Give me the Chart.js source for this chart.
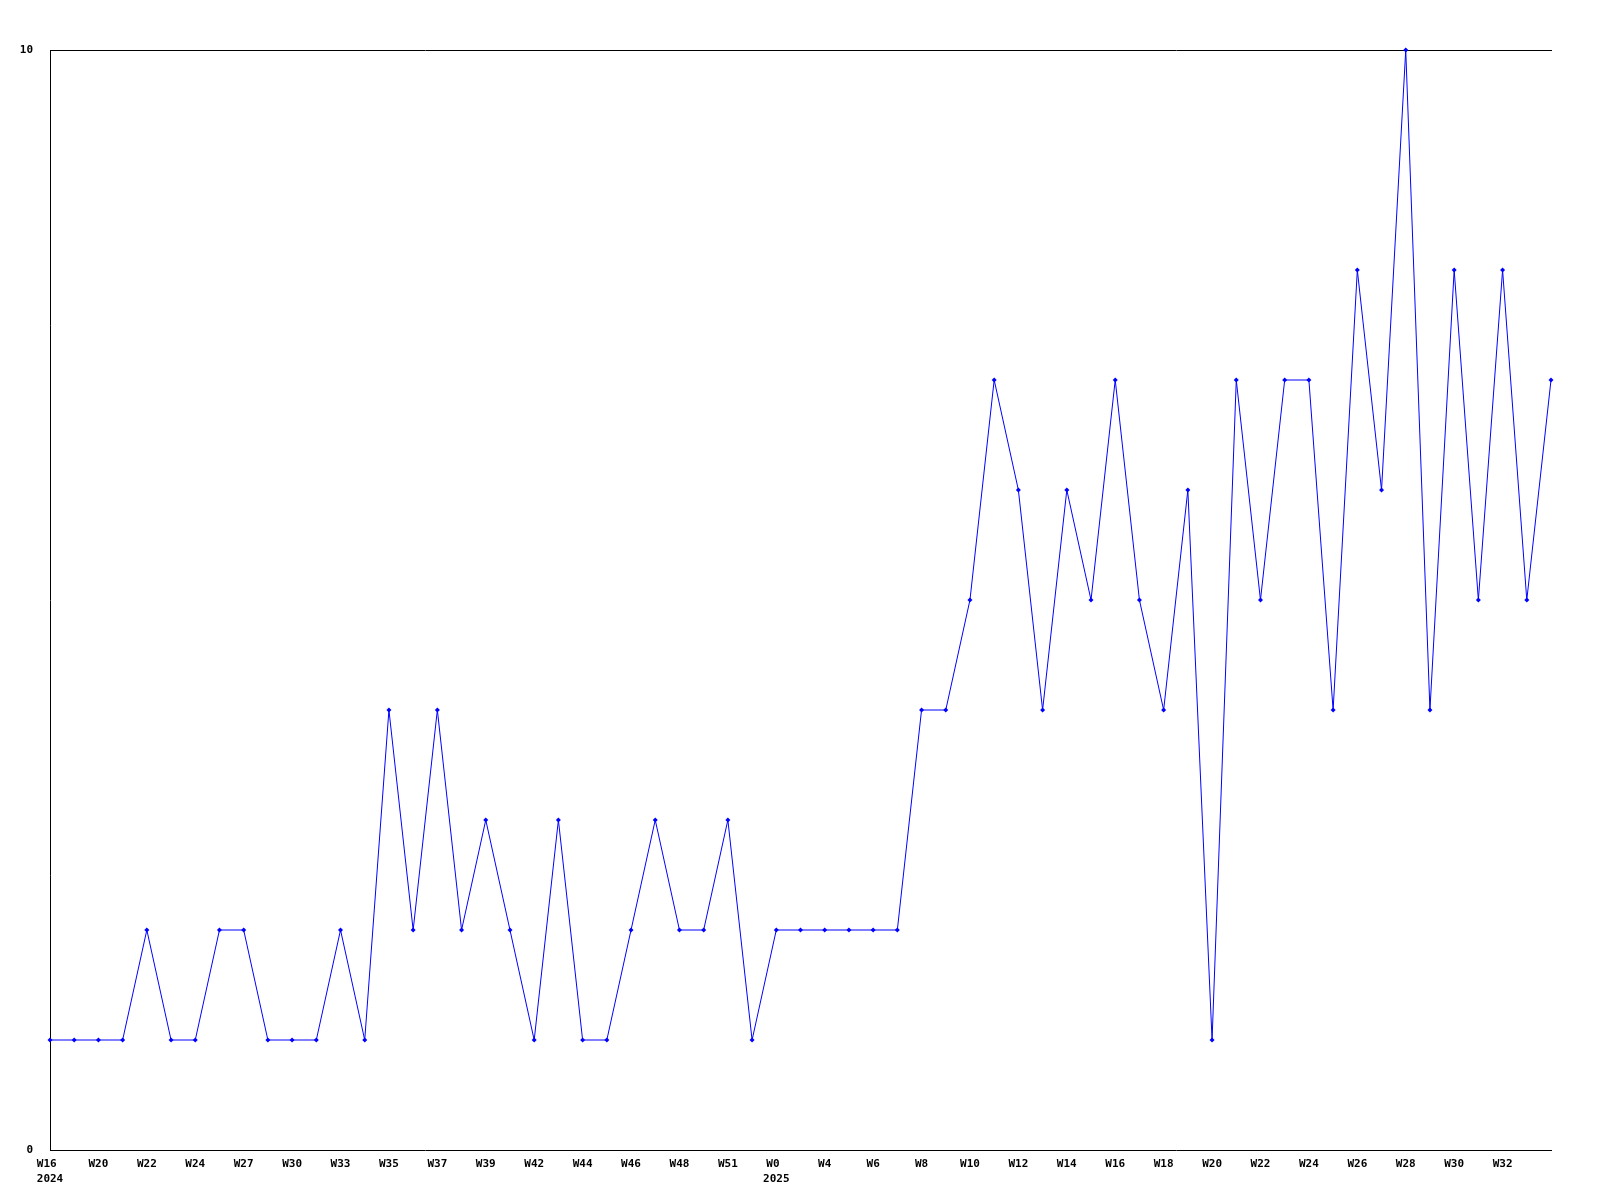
<!DOCTYPE html>
<html>
<head>
<meta charset="utf-8">
<style>
  html, body { margin: 0; padding: 0; background: #ffffff; }
  #wrap { width: 1600px; height: 1200px; }
</style>
<script src="https://cdn.jsdelivr.net/npm/chart.js@4/dist/chart.umd.min.js"></script>
</head>
<body>
<div id="wrap"><canvas id="c" width="1600" height="1200"></canvas></div>
<script>
// Week labels shown on the axis (every second point carries a label)
const weekLabels = ['W16','','W20','','W22','','W24','','W27','','W30','','W33','','W35','','W37','','W39','','W42','','W44','','W46','','W48','','W51','','W0','','W4','','W6','','W8','','W10','','W12','','W14','','W16','','W18','','W20','','W22','','W24','','W26','','W28','','W30','','W32','',''];
// Year shown under the first label of each year
const yearLabels = {0: '2024', 30: '2025'};
// Series values
const values = [1,1,1,1,2,1,1,2,2,1,1,1,2,1,4,2,4,2,3,2,1,3,1,1,2,3,2,2,3,1,2,2,2,2,2,2,4,4,5,7,6,4,6,5,7,5,4,6,1,7,5,7,7,4,8,6,10,4,8,5,8,5,7];
const yTicks = [0, 10];

const categories = weekLabels.map((w, i) => yearLabels[i] ? [w + ' ', yearLabels[i]] : w);

const font = { family: 'DejaVu Sans Mono', size: 11, weight: 'bold', lineHeight: 1.35 };

new Chart(document.getElementById('c'), {
  type: 'line',
  data: {
    labels: categories,
    datasets: [{
      data: values,
      borderColor: '#0000ff',
      backgroundColor: '#0000ff',
      borderWidth: 1,
      pointStyle: 'rectRot',
      pointRadius: 2.5,
      pointBorderWidth: 0,
      pointBackgroundColor: '#0000ff',
      tension: 0,
      fill: false,
      clip: false
    }]
  },
  options: {
    responsive: false,
    animation: false,
    devicePixelRatio: 1,
    layout: { padding: { top: 50, right: 49, left: 0, bottom: 0 } },
    plugins: { legend: { display: false }, tooltip: { enabled: false }, title: { display: false } },
    scales: {
      x: {
        type: 'category',
        offset: false,
        grid: { display: false, drawTicks: false },
        border: { display: true, color: '#000000', width: 1 },
        ticks: {
          autoSkip: false,
          maxRotation: 0,
          minRotation: 0,
          color: '#000000',
          font: font,
          padding: 7
        },
        afterFit: (s) => { s.height = 50; }
      },
      x2: {
        type: 'category',
        position: 'top',
        offset: false,
        grid: { display: false, drawTicks: false },
        border: { display: true, color: '#000000', width: 1 },
        ticks: { display: false },
        afterFit: (s) => { s.height = 0; }
      },
      y: {
        min: yTicks[0],
        max: yTicks[yTicks.length - 1],
        afterBuildTicks: (s) => { s.ticks = yTicks.map(v => ({ value: v })); },
        grid: { display: false, drawTicks: false },
        border: { display: true, color: '#000000', width: 1 },
        ticks: { color: '#000000', font: font, padding: 17 },
        afterFit: (s) => { s.width = 50; }
      }
    }
  }
});
</script>
</body>
</html>
